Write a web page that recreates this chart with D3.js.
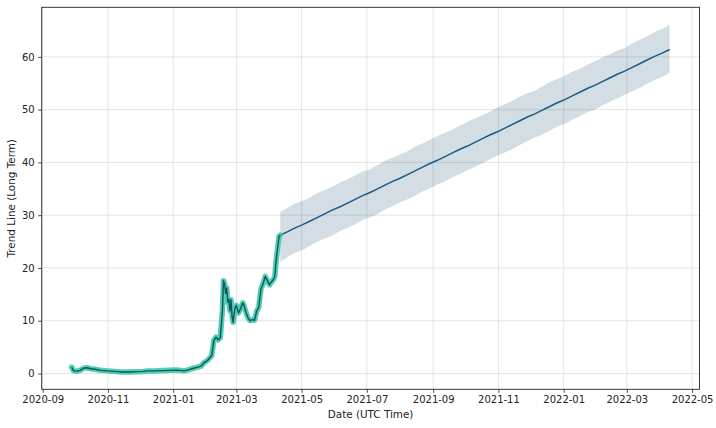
<!DOCTYPE html>
<html><head><meta charset="utf-8">
<script src="https://cdn.jsdelivr.net/npm/d3@7"></script>
<style>
html,body{margin:0;padding:0;background:#fff;}
svg{display:block;font-family:"DejaVu Sans",sans-serif;}
</style></head>
<body>
<svg id="chart" width="716" height="428"></svg>
<script>
// ---- data ----
const histDates = ["2020-09-28","2020-09-30","2020-10-03","2020-10-06","2020-10-09","2020-10-12","2020-10-16","2020-10-20","2020-10-25","2020-10-31",
"2020-11-07","2020-11-14","2020-11-21","2020-11-28","2020-12-04","2020-12-08","2020-12-15","2020-12-22","2020-12-29","2021-01-03",
"2021-01-07","2021-01-11","2021-01-15","2021-01-20","2021-01-24","2021-01-27","2021-01-30","2021-02-01","2021-02-03","2021-02-06",
"2021-02-08","2021-02-10","2021-02-12","2021-02-14","2021-02-16","2021-02-17","2021-02-18","2021-02-19","2021-02-20","2021-02-21",
"2021-02-22","2021-02-23","2021-02-24","2021-02-25","2021-02-26","2021-02-27","2021-02-28","2021-03-01","2021-03-03","2021-03-05",
"2021-03-07","2021-03-08","2021-03-10","2021-03-12","2021-03-14","2021-03-16","2021-03-18","2021-03-20","2021-03-22","2021-03-24",
"2021-03-26","2021-03-28","2021-03-30","2021-04-01","2021-04-03","2021-04-05","2021-04-06","2021-04-07","2021-04-08","2021-04-09",
"2021-04-10","2021-04-11"];
const histValues = [1.2,0.5,0.45,0.6,1.0,1.1,0.9,0.8,0.6,0.5,
0.4,0.3,0.3,0.35,0.4,0.5,0.5,0.55,0.6,0.65,
0.6,0.5,0.7,1.0,1.2,1.4,2.1,2.3,2.7,3.4,
6.3,6.9,6.4,6.8,12.0,17.6,17.0,15.2,16.2,13.5,
14.1,11.9,14.0,10.8,9.7,11.5,12.6,12.9,11.5,12.3,
13.4,13.0,11.6,10.5,10.0,10.2,10.1,11.8,12.6,16.0,
17.0,18.4,17.6,16.8,17.4,17.9,18.5,21.0,22.8,24.5,
26.0,26.2];

const forecastStart = "2021-04-11"; // weekly steps from here
const forecastValues = [26.2,26.9,27.6,28.2,28.9,29.6,30.3,31.0,31.6,32.3,33.0,33.7,34.3,35.0,35.7,36.4,37.0,37.7,38.4,39.1,
39.8,40.4,41.1,41.8,42.5,43.1,43.8,44.5,45.2,45.8,46.5,47.2,47.9,48.6,49.2,49.9,50.6,51.3,51.9,52.6,
53.3,54.0,54.6,55.3,56.0,56.7,57.3,58.0,58.7,59.4,60.1,60.7,61.4];
const forecastUpper = [30.6,31.4,32.2,32.7,33.4,34.2,34.8,35.4,36.2,36.8,37.5,38.3,38.7,39.5,40.3,40.9,41.5,42.1,43.0,43.6,
44.3,45.0,45.6,46.2,47.0,47.7,48.3,49.0,49.6,50.4,51.0,51.7,52.5,53.1,53.6,54.4,55.2,55.8,56.4,57.2,
57.7,58.5,59.1,59.9,60.5,61.2,61.7,62.6,63.2,63.9,64.7,65.3,66.1];
const forecastLower = [21.2,22.1,22.9,23.4,24.2,25.0,25.6,26.2,27.0,27.6,28.3,29.1,29.6,30.2,31.1,31.7,32.4,33.0,33.7,34.5,
35.1,35.8,36.4,37.2,37.8,38.5,39.2,39.8,40.6,41.3,41.9,42.5,43.3,44.0,44.7,45.3,46.0,46.8,47.3,48.1,
48.7,49.5,50.0,50.8,51.5,52.1,52.8,53.5,54.1,54.9,55.6,56.2,57.0];

const yTicks = [0,10,20,30,40,50,60];
const xTickDates = ["2020-09-01","2020-11-01","2021-01-01","2021-03-01","2021-05-01","2021-07-01","2021-09-01","2021-11-01","2022-01-01","2022-03-01","2022-05-01"];

// ---- build ----
const parse = d3.utcParse("%Y-%m-%d");
const hist = histDates.map((d,i)=>({date:parse(d), v:histValues[i]}));
const f0 = parse(forecastStart);
const fc = forecastValues.map((v,i)=>({date:d3.utcDay.offset(f0, 7*i), v, hi:forecastUpper[i], lo:forecastLower[i]}));

const W=716, H=428;
const m = {left:41.7, right:16.5, top:7.3, bottom:38.7};
const svg = d3.select("#chart");

const xMin = hist[0].date, xMax = fc[fc.length-1].date;
const xPad = (xMax - xMin)*0.05;
const x = d3.scaleUtc().domain([new Date(+xMin - xPad), new Date(+xMax + xPad)]).range([m.left, W-m.right]);

const allY = hist.map(d=>d.v).concat(forecastUpper, forecastLower);
const yLo = d3.min(allY), yHi = d3.max(allY), yPad=(yHi-yLo)*0.05;
const y = d3.scaleLinear().domain([yLo-yPad, yHi+yPad]).range([H-m.bottom, m.top]);

// grid
const g = svg.append("g");
g.selectAll(".gx").data(xTickDates.map(parse)).join("line")
 .attr("x1",d=>x(d)).attr("x2",d=>x(d)).attr("y1",m.top).attr("y2",H-m.bottom)
 .attr("stroke","#e2e2e2").attr("stroke-width",0.9);
g.selectAll(".gy").data(yTicks).join("line")
 .attr("x1",m.left).attr("x2",W-m.right).attr("y1",d=>y(d)).attr("y2",d=>y(d))
 .attr("stroke","#e2e2e2").attr("stroke-width",0.9);

// band
svg.append("path").datum(fc)
 .attr("d", d3.area().x(d=>x(d.date)).y0(d=>y(d.lo)).y1(d=>y(d.hi)))
 .attr("fill","#24587a").attr("fill-opacity",0.2);

// forecast line
svg.append("path").datum(fc)
 .attr("d", d3.line().x(d=>x(d.date)).y(d=>y(d.v)))
 .attr("fill","none").attr("stroke","#1b5a80").attr("stroke-width",1.5);

// historical
const hl = d3.line().x(d=>x(d.date)).y(d=>y(d.v)).curve(d3.curveLinear);
svg.append("path").datum(hist).attr("d",hl)
 .attr("fill","none").attr("stroke","#3ecaa9").attr("stroke-width",5.5)
 .attr("stroke-linejoin","round").attr("stroke-linecap","round").attr("stroke-opacity",0.9);
svg.append("path").datum(hist).attr("d",hl)
 .attr("fill","none").attr("stroke","#0f5562").attr("stroke-width",1.4)
 .attr("stroke-linejoin","round");

// axes
const xAxis = d3.axisBottom(x).tickValues(xTickDates.map(parse)).tickFormat(d3.utcFormat("%Y-%m")).tickSize(3.5).tickPadding(3.5);
const yAxis = d3.axisLeft(y).tickValues(yTicks).tickFormat(d3.format("d")).tickSize(3.5).tickPadding(3.5);
const ax = svg.append("g").attr("transform",`translate(0,${H-m.bottom})`).call(xAxis);
const ay = svg.append("g").attr("transform",`translate(${m.left},0)`).call(yAxis);
[ax,ay].forEach(a=>{
  a.select(".domain").remove();
  a.selectAll(".tick line").attr("stroke","#222").attr("stroke-width",0.8);
  a.selectAll(".tick text").attr("fill","#222").style("font-size","10px").style("font-family","DejaVu Sans");
});

// frame
svg.append("rect").attr("x",m.left).attr("y",m.top).attr("width",W-m.left-m.right).attr("height",H-m.top-m.bottom)
 .attr("fill","none").attr("stroke","#222").attr("stroke-width",0.9);

// labels
svg.append("text").attr("x",(m.left+W-m.right)/2).attr("y",418).attr("text-anchor","middle")
 .style("font-size","10.4px").attr("fill","#222").text("Date (UTC Time)");
svg.append("text").attr("transform",`translate(15,${(m.top+H-m.bottom)/2}) rotate(-90)`).attr("text-anchor","middle")
 .style("font-size","10.4px").attr("fill","#222").text("Trend Line (Long Term)");
</script>
</body></html>
